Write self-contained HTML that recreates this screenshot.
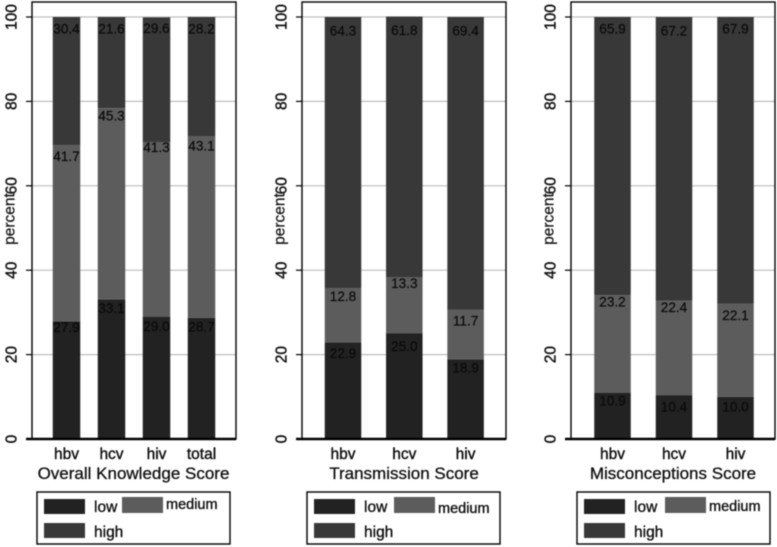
<!DOCTYPE html>
<html lang="en">
<head>
<meta charset="utf-8">
<title>Knowledge score stacked bars</title>
<style>
html,body{margin:0;padding:0;background:#fff;}
body{width:777px;height:547px;overflow:hidden;}
svg{display:block;font-family:"Liberation Sans",Arial,sans-serif;filter:blur(0.4px);}
</style>
</head>
<body>
<svg id="chart" xmlns="http://www.w3.org/2000/svg" width="777" height="547" viewBox="0 0 777 547"></svg>
<script>
const panelTitles = ['Overall Knowledge Score', 'Transmission Score', 'Misconceptions Score'];
const panelCategories = [['hbv', 'hcv', 'hiv', 'total'], ['hbv', 'hcv', 'hiv'], ['hbv', 'hcv', 'hiv']];
const lowValues = [[27.9, 33.1, 29.0, 28.7], [22.9, 25.0, 18.9], [10.9, 10.4, 10.0]];
const mediumValues = [[41.7, 45.3, 41.3, 43.1], [12.8, 13.3, 11.7], [23.2, 22.4, 22.1]];
const highValues = [[30.4, 21.6, 29.6, 28.2], [64.3, 61.8, 69.4], [65.9, 67.2, 67.9]];
const yTicks = [0, 20, 40, 60, 80, 100];
const seriesNames = ['low', 'medium', 'high'];

const seriesColors = {low: '#222222', medium: '#5c5c5c', high: '#383838'};
const layouts = [
  {left: 32, right: 236, firstCenter: 66.5, step: 45, barWidth: 27.5, tickX: 12, percentX: 10,
   legendX: 37, mediumSwatchX: 122, mediumSwatchY: 497, mediumTextX: 166, mediumTextY: 509,
   lowDy: [6, 9, 10, 9], mediumDy: [11, 8, 5, 10], highDy: [12, 12, 11, 12]},
  {left: 302, right: 506, firstCenter: 343, step: 61.3, barWidth: 36.5, tickX: 282, percentX: 280,
   legendX: 307, mediumSwatchX: 394, mediumSwatchY: 497, mediumTextX: 438, mediumTextY: 513,
   lowDy: [11, 13, 9], mediumDy: [8, 6, 11], highDy: [14, 14, 14]},
  {left: 571, right: 775, firstCenter: 612.5, step: 61.5, barWidth: 36.5, tickX: 551, percentX: 549,
   legendX: 577, mediumSwatchX: 665, mediumSwatchY: 497, mediumTextX: 709, mediumTextY: 511,
   lowDy: [8, 12, 10], mediumDy: [7, 7, 12], highDy: [12, 14, 12]}
];

const NS = 'http://www.w3.org/2000/svg';
const svg = document.getElementById('chart');
const yZero = 439;
const yHundred = 17;
function yScale(v) { return yZero - (v / 100) * (yZero - yHundred); }
function xScale(layout, i) { return layout.firstCenter + i * layout.step; }

function make(parent, tag, attrs, text) {
  const el = document.createElementNS(NS, tag);
  for (const k in attrs) el.setAttribute(k, attrs[k]);
  if (text !== undefined) el.textContent = text;
  parent.appendChild(el);
  return el;
}

panelTitles.forEach(function (title, p) {
  const L = layouts[p];
  const g = make(svg, 'g', {});
  
  

  // gridlines and ticks
  yTicks.forEach(function (t) {
    const y = yScale(t);
    if (t > 0) {
      const grid = make(g, 'line', {x1: L.left, x2: L.right, y1: y, y2: y, stroke: '#bdbdbd', 'stroke-width': 1.2});
      
      
    }
    const tick = make(g, 'line', {x1: L.left - 6, x2: L.left, y1: y, y2: y, stroke: '#000', 'stroke-width': 1.2});
    
    
    const label = make(g, 'text', {
      x: L.tickX, y: y, 'font-size': 15.5, fill: '#111', 'text-anchor': 'middle', 'dominant-baseline': 'central',
      transform: 'rotate(-90 ' + L.tickX + ' ' + y + ')', stroke: '#111', 'stroke-width': 0.4
    }, String(t));
    
    
  });

  // stacked bars
  panelCategories[p].forEach(function (cat, i) {
    const cx = xScale(L, i);
    const series = [lowValues[p][i], mediumValues[p][i], highValues[p][i]];
    const offsets = [L.lowDy[i], L.mediumDy[i], L.highDy[i]];
    let cumulative = 0;
    series.forEach(function (v, s) {
      const bottom = yScale(cumulative);
      cumulative += v;
      const top = yScale(cumulative);
      const bar = make(g, 'rect', {
        x: cx - L.barWidth / 2, y: top, width: L.barWidth, height: bottom - top,
        fill: seriesColors[seriesNames[s]]
      });
      
      
    });
    cumulative = 0;
    series.forEach(function (v, s) {
      cumulative += v;
      const top = yScale(cumulative);
      const value = make(g, 'text', {
        x: cx, y: top + offsets[s], 'font-size': 13.6, fill: '#0a0a0a',
        'text-anchor': 'middle', 'dominant-baseline': 'central', stroke: '#0a0a0a', 'stroke-width': 0.2
      }, v.toFixed(1));
      
      
    });
    const xLabel = make(g, 'text', {
      x: cx, y: 459, 'font-size': 15.5, fill: '#111', 'text-anchor': 'middle', stroke: '#111', 'stroke-width': 0.4
    }, cat);
    
    
  });

  // axis frame
  const frame = make(g, 'rect', {
    x: L.left, y: 2, width: L.right - L.left, height: yZero - 2,
    fill: 'none', stroke: '#000', 'stroke-width': 1.4
  });
  
  
  const baseline = make(g, 'line', {x1: L.left - 6, x2: L.right, y1: yZero, y2: yZero, stroke: '#000', 'stroke-width': 2.4});
  
  

  // axis titles
  const yTitle = make(g, 'text', {
    x: L.percentX, y: 219, 'font-size': 15.5, fill: '#111', 'text-anchor': 'middle', 'dominant-baseline': 'central',
    transform: 'rotate(-90 ' + L.percentX + ' 219)', stroke: '#111', 'stroke-width': 0.2
  }, 'percent');
  
  
  const xTitle = make(g, 'text', {
    x: (L.left + L.right) / 2 + (p === 0 ? -0.5 : 0), y: 479, 'font-size': 17, fill: '#111', 'text-anchor': 'middle',
    stroke: '#111', 'stroke-width': 0.3
  }, title);
  
  

  // legend
  const legend = make(g, 'g', {});
  
  
  const box = make(legend, 'rect', {x: L.legendX, y: 492, width: 193, height: 52, fill: '#fff', stroke: '#000', 'stroke-width': 1.4});
  
  

  const lowSwatch = make(legend, 'rect', {x: L.legendX + 7, y: 499, width: 41, height: 15, fill: seriesColors.low});
  
  
  const lowText = make(legend, 'text', {x: L.legendX + 57, y: 512, 'font-size': 15.5, fill: '#111', stroke: '#111', 'stroke-width': 0.35}, 'low');
  
  

  const mediumSwatch = make(legend, 'rect', {x: L.mediumSwatchX, y: L.mediumSwatchY, width: 41, height: 16, fill: seriesColors.medium});
  
  
  const mediumText = make(legend, 'text', {x: L.mediumTextX, y: L.mediumTextY, 'font-size': 14.5, fill: '#111', stroke: '#111', 'stroke-width': 0.35}, 'medium');
  
  

  const highSwatch = make(legend, 'rect', {x: L.legendX + 7, y: 523, width: 41, height: 15, fill: seriesColors.high});
  
  
  const highText = make(legend, 'text', {x: L.legendX + 57, y: 537, 'font-size': 15.5, fill: '#111', stroke: '#111', 'stroke-width': 0.35}, 'high');
  
  
});
</script>
</body>
</html>
